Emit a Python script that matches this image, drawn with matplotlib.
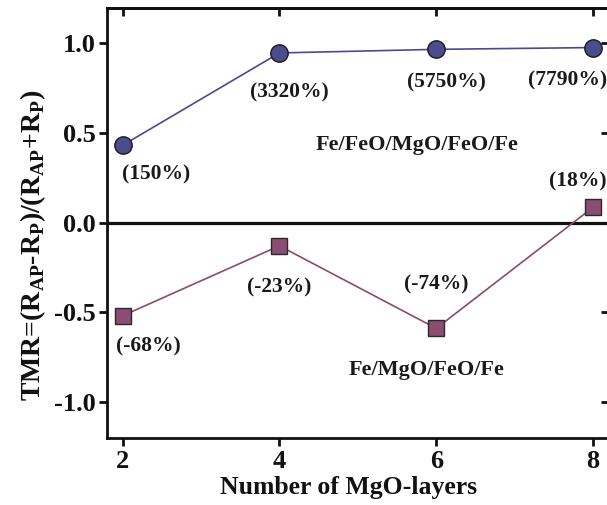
import matplotlib.pyplot as plt

plt.rcParams['font.family'] = ['Liberation Serif', 'DejaVu Serif']
plt.rcParams['font.weight'] = 'bold'
plt.rcParams['mathtext.fontset'] = 'custom'
plt.rcParams['mathtext.rm'] = 'Liberation Serif:bold'
plt.rcParams['mathtext.bf'] = 'Liberation Serif:bold'

layers = [2, 4, 6, 8]
tmr_feo = [0.43, 0.945, 0.965, 0.975]
tmr_mgo = [-0.52, -0.13, -0.59, 0.085]
labels_feo = ['(150%)', '(3320%)', '(5750%)', '(7790%)']
labels_mgo = ['(-68%)', '(-23%)', '(-74%)', '(18%)']

fig = plt.figure(figsize=(6.07, 5.05), dpi=100)
ax = fig.add_axes([0.176, 0.133, 0.827, 0.851])

ax.axhline(0, color='#111111', lw=2.3, zorder=1)
ax.plot(layers, tmr_feo, '-o', color='#4a4a90', lw=1.2, ms=12.5,
        mfc='#4b4b8e', mec='#1a1a1a', mew=1.0, zorder=3)
ax.plot(layers, tmr_mgo, '-s', color='#8c4a6c', lw=1.2, ms=11,
        mfc='#8b4e72', mec='#2a2a2a', mew=1.0, zorder=3)

# percentage labels, offsets from each point in data units
feo_dx = [0.43, 0.13, 0.125, -0.32]
feo_dy = [-0.16, -0.22, -0.185, -0.185]
mgo_dx = [0.33, 0.0, 0.0, -0.2]
mgo_dy = [-0.17, -0.23, 0.245, 0.143]
for x, y, t, dx, dy in zip(layers, tmr_feo, labels_feo, feo_dx, feo_dy):
    ax.text(x + dx, y + dy, t, ha='center', va='center', fontsize=15.5,
            fontweight='bold', color='#1a1a1a')
for x, y, t, dx, dy in zip(layers, tmr_mgo, labels_mgo, mgo_dx, mgo_dy):
    ax.text(x + dx, y + dy, t, ha='center', va='center', fontsize=15.5,
            fontweight='bold', color='#1a1a1a')

ax.text(5.755, 0.43, 'Fe/FeO/MgO/FeO/Fe', ha='center', va='center', fontsize=16,
        fontweight='bold', color='#1a1a1a')
ax.text(5.88, -0.82, 'Fe/MgO/FeO/Fe', ha='center', va='center', fontsize=16,
        fontweight='bold', color='#1a1a1a')

ax.set_xlim(1.8, 8.2)
ax.set_ylim(-1.2, 1.195)
ax.set_xticks(layers)
ax.set_yticks([-1.0, -0.5, 0.0, 0.5, 1.0])
ax.set_yticklabels(['-1.0', '-0.5', '0.0', '0.5', '1.0'])
ax.tick_params(direction='out', width=2, length=6, labelsize=19,
               colors='#111111')
ax.tick_params(axis='y', pad=2)
ax.tick_params(axis='x', pad=3)

for s in ax.spines.values():
    s.set_linewidth(2)
    s.set_color('#111111')

top = ax.secondary_xaxis('top')
top.set_xticks(layers)
top.tick_params(direction='in', width=2, length=6, labeltop=False, colors='#111111')
top.spines['top'].set_linewidth(2)
right = ax.secondary_yaxis('right')
right.set_yticks([-1.0, -0.5, 0.0, 0.5, 1.0])
right.tick_params(direction='in', width=2, length=6, labelright=False, colors='#111111')
right.spines['right'].set_linewidth(2)

ax.set_xlabel('Number of MgO-layers', fontsize=18.5, fontweight='bold', labelpad=0,
              color='#111111')
ax.xaxis.set_label_coords(0.482, -0.088)
ax.set_ylabel(r'TMR=(R$_{\mathrm{AP}}$-R$_{\mathrm{P}}$)/(R$_{\mathrm{AP}}$+R$_{\mathrm{P}}$)',
              fontsize=20, fontweight='bold', color='#111111')
ax.yaxis.set_label_coords(-0.118, 0.447)

fig.savefig('out.png', dpi=100)
